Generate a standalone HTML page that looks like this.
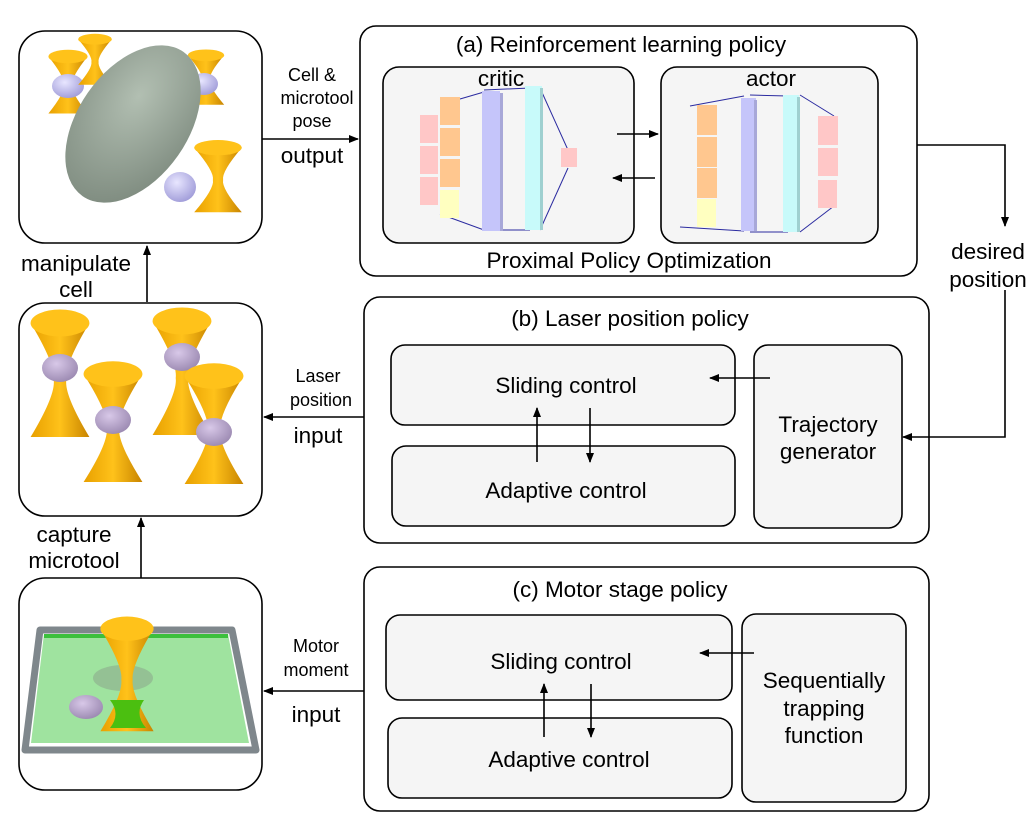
<!DOCTYPE html>
<html><head><meta charset="utf-8"><style>
body{margin:0;background:#fff;}
svg{display:block;font-family:"Liberation Sans",Arial,sans-serif;}
</style></head><body>
<svg width="1033" height="835" viewBox="0 0 1033 835" xmlns="http://www.w3.org/2000/svg">
<defs>
<marker id="ah" markerWidth="10" markerHeight="10" refX="9" refY="5" orient="auto" markerUnits="userSpaceOnUse"><path d="M0,1 L10,5 L0,9 z" fill="#000"/></marker>
<linearGradient id="gold" x1="0" x2="1"><stop offset="0" stop-color="#e8a000"/><stop offset=".5" stop-color="#ffc21a"/><stop offset="1" stop-color="#c88400"/></linearGradient>
<radialGradient id="cellg" cx=".4" cy=".35" r=".7"><stop offset="0" stop-color="#b2bfb2"/><stop offset="1" stop-color="#7f8c80"/></radialGradient>
<radialGradient id="bead" cx=".4" cy=".35" r=".7"><stop offset="0" stop-color="#e8e6ff"/><stop offset="1" stop-color="#9f9bd8"/></radialGradient>
<radialGradient id="beadp" cx=".4" cy=".35" r=".7"><stop offset="0" stop-color="#d8c8e8"/><stop offset="1" stop-color="#9a88b0"/></radialGradient>
<g id="hour"><path d="M-28,-38 Q-4,-10 -6,0 Q-4,10 -28,38 L28,38 Q4,10 6,0 Q4,-10 28,-38 Z" fill="url(#gold)"/><ellipse cx="0" cy="-38" rx="28" ry="9" fill="#ffc21a"/></g>
</defs>
<g fill="none" stroke="#000" stroke-width="1.6">
<rect x="19" y="31" width="243" height="212" rx="26" fill="#fff"/>
<rect x="19" y="303" width="243" height="213" rx="26" fill="#fff"/>
<rect x="19" y="578" width="243" height="212" rx="26" fill="#fff"/>
<rect x="360" y="26" width="557" height="250" rx="16"/>
<rect x="383" y="67" width="251" height="176" rx="16" fill="#f5f5f5"/>
<rect x="661" y="67" width="217" height="176" rx="16" fill="#f5f5f5"/>
<rect x="364" y="297" width="565" height="246" rx="16"/>
<rect x="391" y="345" width="344" height="80" rx="14" fill="#f5f5f5"/>
<rect x="392" y="446" width="343" height="80" rx="14" fill="#f5f5f5"/>
<rect x="754" y="345" width="148" height="183" rx="14" fill="#f5f5f5"/>
<rect x="364" y="567" width="565" height="244" rx="16"/>
<rect x="386" y="615" width="346" height="85" rx="14" fill="#f5f5f5"/>
<rect x="388" y="718" width="344" height="80" rx="14" fill="#f5f5f5"/>
<rect x="742" y="614" width="164" height="188" rx="14" fill="#f5f5f5"/>
</g>
<!-- illustration 1 -->
<g transform="translate(68,85) scale(.7,.75)"><use href="#hour"/></g>
<ellipse cx="68" cy="86" rx="16" ry="12" fill="url(#bead)"/>
<g transform="translate(95,62) scale(.6)"><use href="#hour"/></g>
<g transform="translate(206,80) scale(.65)"><use href="#hour"/></g>
<ellipse cx="204" cy="84" rx="14" ry="11" fill="url(#bead)"/>
<ellipse cx="133" cy="124" rx="55" ry="88" transform="rotate(35 133 124)" fill="url(#cellg)"/>
<ellipse cx="180" cy="187" rx="16" ry="15" fill="url(#bead)"/>
<g transform="translate(218,180) scale(.85)"><use href="#hour"/></g>
<!-- illustration 2 -->
<g transform="translate(60,380) scale(1.05,1.5)"><use href="#hour"/></g>
<ellipse cx="60" cy="368" rx="18" ry="14" fill="url(#beadp)"/>
<g transform="translate(113,428) scale(1.05,1.42)"><use href="#hour"/></g>
<ellipse cx="113" cy="420" rx="18" ry="14" fill="url(#beadp)"/>
<g transform="translate(182,378) scale(1.05,1.5)"><use href="#hour"/></g>
<ellipse cx="182" cy="357" rx="18" ry="14" fill="url(#beadp)"/>
<g transform="translate(214,430) scale(1.05,1.42)"><use href="#hour"/></g>
<ellipse cx="214" cy="432" rx="18" ry="14" fill="url(#beadp)"/>
<!-- illustration 3 -->
<path d="M40,630 L232,630 L256,750 L25,750 Z" fill="none" stroke="#7f878c" stroke-width="7" stroke-linejoin="round"/>
<path d="M44,634 L228,634 L249,743 L31,743 Z" fill="#9fe39f"/>
<rect x="44" y="634" width="184" height="4" fill="#3cc03c"/>
<ellipse cx="123" cy="678" rx="30" ry="13" fill="#8aa08a" opacity=".5"/>
<g transform="translate(127,680) scale(.95,1.35)"><use href="#hour"/></g>
<path d="M110,700 Q121,714 110,728 L146,728 Q134,714 144,700 Z" fill="#4bbf10"/>
<ellipse cx="86" cy="707" rx="17" ry="12" fill="url(#beadp)"/>
<!-- NN -->
<g stroke="#2b2ba0" stroke-width="1" fill="none">
<line x1="460" y1="99" x2="484" y2="92"/><line x1="440" y1="214" x2="484" y2="230"/>
<line x1="484" y1="90" x2="530" y2="88"/><line x1="490" y1="230" x2="530" y2="230"/>
<line x1="540" y1="88" x2="568" y2="150"/><line x1="540" y1="230" x2="568" y2="168"/>
<line x1="690" y1="106" x2="744" y2="96"/><line x1="680" y1="227" x2="744" y2="231"/>
<line x1="750" y1="95" x2="788" y2="96"/><line x1="750" y1="232" x2="788" y2="232"/>
<line x1="800" y1="95" x2="834" y2="116"/><line x1="800" y1="232" x2="834" y2="206"/>
</g>
<g>
<rect x="420" y="115" width="18" height="28" fill="#ffc7c7"/><rect x="420" y="146" width="18" height="28" fill="#ffc7c7"/><rect x="420" y="177" width="18" height="28" fill="#ffc7c7"/>
<rect x="440" y="97" width="20" height="28" fill="#ffc78f"/><rect x="440" y="128" width="20" height="28" fill="#ffc78f"/><rect x="440" y="159" width="20" height="28" fill="#ffc78f"/>
<rect x="440" y="190" width="19" height="28" fill="#ffffc0"/>
<rect x="482" y="91" width="18" height="140" fill="#c5c5fa"/><rect x="500" y="93" width="3" height="138" fill="#a8a8d8"/>
<rect x="525" y="86" width="17" height="144" fill="#c8fafa"/><rect x="540" y="88" width="3" height="142" fill="#9fd0d0"/>
<rect x="561" y="148" width="16" height="19" fill="#ffc7c7"/>
<rect x="697" y="105" width="20" height="30" fill="#ffc78f"/><rect x="697" y="137" width="20" height="30" fill="#ffc78f"/><rect x="697" y="168" width="20" height="30" fill="#ffc78f"/>
<rect x="697" y="199" width="19" height="28" fill="#ffffc0"/>
<rect x="741" y="98" width="15" height="133" fill="#c5c5fa"/><rect x="754" y="100" width="3" height="131" fill="#a8a8d8"/>
<rect x="783" y="95" width="16" height="137" fill="#c8fafa"/><rect x="797" y="97" width="3" height="135" fill="#9fd0d0"/>
<rect x="818" y="116" width="20" height="29" fill="#ffc7c7"/><rect x="818" y="148" width="20" height="28" fill="#ffc7c7"/><rect x="818" y="180" width="19" height="28" fill="#ffc7c7"/>
</g>
<!-- connectors -->
<g stroke="#000" stroke-width="1.6" fill="none" marker-end="url(#ah)">
<line x1="617" y1="134" x2="658" y2="134"/>
<line x1="655" y1="178" x2="613" y2="178"/>
<line x1="262" y1="139" x2="358" y2="139"/>
<polyline points="917,145 1005,145 1005,226"/>
<polyline points="1005,290 1005,437 903,437"/>
<line x1="364" y1="417" x2="264" y2="417"/>
<line x1="364" y1="691" x2="264" y2="691"/>
<line x1="147" y1="302" x2="147" y2="246"/>
<line x1="141" y1="578" x2="141" y2="518"/>
<line x1="770" y1="378" x2="710" y2="378"/>
<line x1="537" y1="462" x2="537" y2="408"/>
<line x1="590" y1="408" x2="590" y2="462"/>
<line x1="754" y1="653" x2="700" y2="653"/>
<line x1="544" y1="737" x2="544" y2="684"/>
<line x1="591" y1="684" x2="591" y2="737"/>
</g>
<g fill="#000" text-anchor="middle" font-size="22.5">
<text x="621" y="52">(a) Reinforcement learning policy</text>
<text x="501" y="86">critic</text>
<text x="771" y="86">actor</text>
<text x="629" y="268">Proximal Policy Optimization</text>
<text x="630" y="326">(b) Laser position policy</text>
<text x="566" y="393">Sliding control</text>
<text x="566" y="498">Adaptive control</text>
<text x="828" y="432">Trajectory</text>
<text x="828" y="459">generator</text>
<text x="620" y="597">(c) Motor stage policy</text>
<text x="561" y="669">Sliding control</text>
<text x="569" y="767">Adaptive control</text>
<text x="824" y="688">Sequentially</text>
<text x="824" y="716">trapping</text>
<text x="824" y="743">function</text>
<text x="312" y="163">output</text>
<text x="988" y="259">desired</text>
<text x="988" y="287">position</text>
<text x="318" y="443">input</text>
<text x="316" y="722">input</text>
<text x="76" y="271">manipulate</text>
<text x="76" y="297">cell</text>
<text x="74" y="542">capture</text>
<text x="74" y="568">microtool</text>
</g>
<g fill="#000" text-anchor="middle" font-size="18">
<text x="312" y="81">Cell &amp;</text>
<text x="317" y="104">microtool</text>
<text x="312" y="127">pose</text>
<text x="318" y="382">Laser</text>
<text x="321" y="406">position</text>
<text x="316" y="652">Motor</text>
<text x="316" y="676">moment</text>
</g>
</svg>
</body></html>
